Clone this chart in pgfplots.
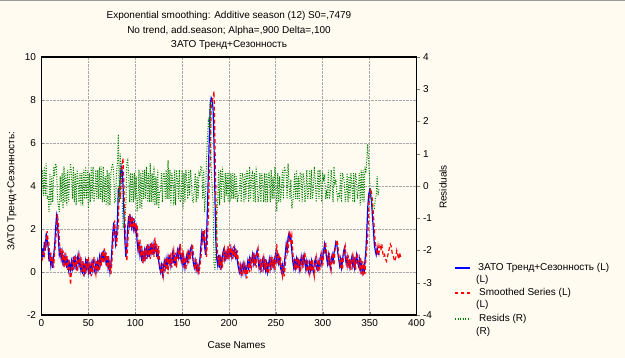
\documentclass[border=0pt]{standalone}
\usepackage{fontspec}
\setmainfont{Liberation Sans}
\usepackage{pgfplots}
\usepackage{pgfplotstable}
\pgfplotsset{compat=1.18}
\definecolor{bg}{HTML}{FFFBF0}
\definecolor{dgreen}{HTML}{008000}
\definecolor{lblue}{HTML}{0000FF}
\definecolor{gridc}{HTML}{A8A8A8}

\pgfplotstableread{
t b r g
0 0.6 0.7 -0.1
1 1.1 0.6 0.5
2 0.7 1.0 -0.3
3 1.4 0.8 0.6
4 1.0 1.3 -0.3
5 1.8 1.1 0.7
6 1.5 1.9 -0.4
7 1.2 1.5 -0.3
8 0.5 1.3 -0.8
9 0.9 0.5 0.4
10 0.3 0.9 -0.6
11 0.6 0.3 0.3
12 0.2 0.7 -0.5
13 0.8 0.2 0.6
14 1.2 0.9 0.3
15 2.0 1.3 0.7
16 2.6 2.0 0.6
17 2.3 2.7 -0.4
18 1.6 2.2 -0.6
19 0.8 1.6 -0.8
20 1.0 0.7 0.3
21 0.6 1.1 -0.5
22 0.9 0.5 0.4
23 0.3 1.0 -0.7
24 0.8 0.2 0.6
25 0.4 0.9 -0.5
26 0.7 0.3 0.4
27 0.2 0.8 -0.6
28 0.6 0.1 0.5
29 0.1 0.6 -0.5
30 0.4 0.1 0.3
31 0.1 -0.6 0.7
32 0.5 0.1 0.4
33 0.2 0.6 -0.4
34 0.7 0.1 0.6
35 0.3 0.8 -0.5
36 0.6 0.2 0.4
37 0.1 0.7 -0.6
38 0.5 0.0 0.5
39 0.8 0.6 0.2
40 0.3 0.8 -0.5
41 0.6 0.2 0.4
42 0.1 0.7 -0.6
43 0.4 0.0 0.4
44 -0.1 0.5 -0.6
45 0.3 -0.2 0.5
46 0.0 0.4 -0.4
47 0.5 -0.1 0.6
48 0.2 0.6 -0.4
49 0.6 0.1 0.5
50 0.0 0.7 -0.7
51 0.3 -0.1 0.4
52 -0.1 0.4 -0.5
53 0.4 -0.2 0.6
54 0.1 0.5 -0.4
55 0.6 0.0 0.6
56 0.2 0.7 -0.5
57 0.0 0.2 -0.2
58 0.4 -0.1 0.5
59 0.1 0.5 -0.4
60 0.5 0.0 0.5
61 0.2 0.6 -0.4
62 0.7 0.1 0.6
63 0.4 0.8 -0.4
64 0.9 0.3 0.6
65 0.5 1.0 -0.5
66 1.0 0.4 0.6
67 0.6 1.1 -0.5
68 0.8 0.5 0.3
69 0.3 0.9 -0.6
70 0.7 0.2 0.5
71 0.2 0.8 -0.6
72 0.5 0.1 0.4
73 0.0 0.6 -0.6
74 0.3 -0.1 0.4
75 1.0 0.4 0.6
76 1.8 1.1 0.7
77 2.3 1.9 0.4
78 1.9 2.4 -0.5
79 1.3 1.8 -0.5
80 1.6 1.2 0.4
81 2.4 1.7 0.7
82 3.9 2.3 1.6
83 3.5 4.0 -0.5
84 4.4 3.4 1.0
85 4.9 4.5 0.4
86 4.7 5.0 -0.3
87 4.0 5.3 -1.3
88 2.6 3.8 -1.2
89 1.4 2.4 -1.0
90 0.7 1.3 -0.6
91 1.2 0.5 0.7
92 2.1 1.3 0.8
93 2.6 2.2 0.4
94 2.2 2.7 -0.5
95 2.5 2.1 0.4
96 2.1 2.6 -0.5
97 2.4 2.0 0.4
98 2.0 2.5 -0.5
99 2.3 1.9 0.4
100 1.9 2.3 -0.4
101 2.1 1.8 0.3
102 1.4 2.2 -0.8
103 1.0 1.4 -0.4
104 1.4 0.9 0.5
105 0.8 1.5 -0.7
106 1.1 0.7 0.4
107 0.5 1.2 -0.7
108 0.9 0.4 0.5
109 0.6 1.0 -0.4
110 1.0 0.5 0.5
111 0.7 1.1 -0.4
112 1.2 0.6 0.6
113 0.8 1.3 -0.5
114 1.1 0.7 0.4
115 0.7 1.2 -0.5
116 1.3 0.6 0.7
117 0.9 1.4 -0.5
118 1.2 0.8 0.4
119 0.8 1.3 -0.5
120 1.3 0.7 0.6
121 1.0 1.6 -0.6
122 1.2 0.9 0.3
123 0.7 1.3 -0.6
124 1.1 0.6 0.5
125 0.5 1.2 -0.7
126 0.2 0.4 -0.2
127 0.0 0.2 -0.2
128 0.3 -0.1 0.4
129 -0.1 0.4 -0.5
130 0.2 -0.2 0.4
131 0.5 0.1 0.4
132 0.2 0.6 -0.4
133 0.6 0.1 0.5
134 0.3 0.7 -0.4
135 0.7 -0.1 0.8
136 0.4 0.8 -0.4
137 0.8 0.3 0.5
138 0.3 0.9 -0.6
139 0.6 0.2 0.4
140 0.9 0.7 0.2
141 0.4 1.0 -0.6
142 0.8 0.3 0.5
143 0.3 0.9 -0.6
144 0.7 0.2 0.5
145 1.0 0.8 0.2
146 0.7 1.1 -0.4
147 1.1 0.6 0.5
148 0.8 1.3 -0.5
149 0.5 0.9 -0.4
150 0.9 0.4 0.5
151 0.3 1.0 -0.7
152 0.6 0.2 0.4
153 0.2 0.7 -0.5
154 0.6 0.1 0.5
155 0.8 0.7 0.1
156 0.5 0.9 -0.4
157 0.9 0.4 0.5
158 0.7 1.0 -0.3
159 1.1 0.6 0.5
160 1.2 1.1 0.1
161 0.8 1.3 -0.5
162 0.4 0.9 -0.5
163 0.2 0.3 -0.1
164 0.5 0.1 0.4
165 0.1 0.6 -0.5
166 0.3 0.0 0.3
167 0.0 0.4 -0.4
168 0.3 -0.1 0.4
169 0.6 0.3 0.3
170 1.2 0.6 0.6
171 1.8 1.2 0.6
172 1.5 1.9 -0.4
173 1.9 1.4 0.5
174 1.2 2.0 -0.8
175 0.8 1.1 -0.3
176 1.5 0.7 0.8
177 3.0 1.5 1.5
178 4.6 2.6 2.0
179 6.3 4.5 1.8
180 7.8 5.2 2.6
181 8.1 7.6 0.5
182 8.0 8.0 0.0
183 7.6 8.1 -0.5
184 6.0 8.4 -2.4
185 3.5 6.1 -2.6
186 1.4 3.4 -2.0
187 0.6 1.6 -1.0
188 0.3 0.7 -0.4
189 0.8 0.3 0.5
190 0.2 0.8 -0.6
191 0.6 0.1 0.5
192 0.3 0.7 -0.4
193 0.8 0.2 0.6
194 1.0 0.9 0.1
195 0.6 1.1 -0.5
196 0.9 0.5 0.4
197 0.7 1.0 -0.3
198 1.0 0.6 0.4
199 0.7 1.2 -0.5
200 1.0 0.6 0.4
201 0.8 1.3 -0.5
202 1.1 0.7 0.4
203 0.7 1.1 -0.4
204 1.0 0.6 0.4
205 0.8 1.2 -0.4
206 1.1 0.7 0.4
207 0.7 1.1 -0.4
208 0.9 0.6 0.3
209 0.5 1.0 -0.5
210 0.2 0.5 -0.3
211 0.0 0.2 -0.2
212 0.3 -0.1 0.4
213 -0.1 0.4 -0.5
214 0.2 -0.2 0.4
215 0.4 0.1 0.3
216 0.0 0.5 -0.5
217 0.3 -0.1 0.4
218 -0.1 0.3 -0.4
219 0.2 -0.3 0.5
220 0.5 0.1 0.4
221 0.1 0.6 -0.5
222 0.6 0.0 0.6
223 0.3 0.7 -0.4
224 0.5 0.2 0.3
225 0.8 0.4 0.4
226 0.4 0.9 -0.5
227 0.7 0.3 0.4
228 0.3 0.8 -0.5
229 0.8 0.2 0.6
230 1.0 0.9 0.1
231 0.6 1.1 -0.5
232 0.2 0.5 -0.3
233 0.5 0.1 0.4
234 0.1 0.6 -0.5
235 0.4 0.0 0.4
236 0.6 0.5 0.1
237 0.2 0.7 -0.5
238 0.5 0.1 0.4
239 0.1 0.6 -0.5
240 0.4 0.0 0.4
241 0.0 0.5 -0.5
242 0.3 -0.1 0.4
243 0.6 0.2 0.4
244 0.2 0.7 -0.5
245 0.6 0.1 0.5
246 0.3 0.7 -0.4
247 0.5 0.2 0.3
248 0.2 0.6 -0.4
249 0.7 0.1 0.6
250 0.9 0.8 0.1
251 0.5 1.3 -0.8
252 0.8 0.4 0.4
253 0.4 0.9 -0.5
254 0.6 0.3 0.3
255 0.2 0.7 -0.5
256 0.0 0.1 -0.1
257 0.3 -0.2 0.5
258 -0.1 0.3 -0.4
259 0.4 -0.2 0.6
260 0.8 0.3 0.5
261 1.3 0.9 0.4
262 1.0 1.4 -0.4
263 1.6 0.9 0.7
264 1.8 1.7 0.1
265 1.5 1.9 -0.4
266 1.6 1.4 0.2
267 1.0 1.7 -0.7
268 0.5 1.0 -0.5
269 0.2 0.4 -0.2
270 0.5 0.1 0.4
271 0.2 0.6 -0.4
272 0.6 0.1 0.5
273 0.3 0.7 -0.4
274 0.5 0.2 0.3
275 0.1 0.6 -0.5
276 0.4 0.0 0.4
277 0.7 0.3 0.4
278 0.3 0.8 -0.5
279 0.6 0.2 0.4
280 0.8 0.6 0.2
281 0.4 0.9 -0.5
282 0.1 0.3 -0.2
283 0.5 0.0 0.5
284 0.2 0.6 -0.4
285 0.0 0.1 -0.1
286 0.4 -0.1 0.5
287 0.1 0.5 -0.4
288 0.5 0.0 0.5
289 0.2 0.6 -0.4
290 0.0 0.1 -0.1
291 0.4 -0.2 0.6
292 0.6 0.4 0.2
293 0.2 0.7 -0.5
294 0.1 0.2 -0.1
295 0.5 0.0 0.5
296 0.2 0.6 -0.4
297 0.6 0.1 0.5
298 0.8 0.7 0.1
299 0.4 0.9 -0.5
300 0.7 0.3 0.4
301 1.0 0.8 0.2
302 1.3 1.0 0.3
303 1.0 1.4 -0.4
304 0.7 0.9 -0.2
305 0.4 0.8 -0.4
306 0.8 0.3 0.5
307 0.5 0.9 -0.4
308 0.2 0.4 -0.2
309 0.6 0.1 0.5
310 0.8 0.7 0.1
311 0.4 0.9 -0.5
312 0.9 0.3 0.6
313 1.1 1.0 0.1
314 1.4 1.2 0.2
315 1.3 1.5 -0.2
316 0.9 1.3 -0.4
317 0.6 0.8 -0.2
318 0.3 0.6 -0.3
319 0.6 0.2 0.4
320 0.2 0.7 -0.5
321 0.5 0.1 0.4
322 0.9 0.6 0.3
323 1.1 1.0 0.1
324 0.7 1.2 -0.5
325 0.4 0.6 -0.2
326 0.7 0.3 0.4
327 0.3 0.8 -0.5
328 0.5 0.2 0.3
329 0.2 0.6 -0.4
330 0.5 0.1 0.4
331 0.7 0.6 0.1
332 0.3 0.8 -0.5
333 0.6 0.2 0.4
334 0.2 0.7 -0.5
335 0.5 0.1 0.4
336 0.8 0.6 0.2
337 0.5 0.9 -0.4
338 0.3 0.4 -0.1
339 0.6 0.2 0.4
340 0.1 0.7 -0.6
341 0.4 -0.1 0.5
342 0.0 0.5 -0.5
343 0.3 -0.2 0.5
344 -0.1 0.4 -0.5
345 0.5 -0.1 0.6
346 1.0 0.6 0.4
347 1.9 1.1 0.8
348 3.0 1.7 1.3
349 3.6 2.9 0.7
350 3.8 3.6 0.2
351 3.6 3.9 -0.3
352 3.3 3.7 -0.4
353 2.6 3.3 -0.7
354 2.0 2.7 -0.7
355 1.3 2.0 -0.7
356 1.0 1.4 -0.4
357 0.8 1.1 -0.3
358 1.1 0.8 0.3
359 0.9 1.2 -0.3
360 0.8 0.9 -0.1
361 nan 1.2 nan
362 nan 1.0 nan
363 nan 1.3 nan
364 nan 0.9 nan
365 nan 0.7 nan
366 nan 0.8 nan
367 nan 0.6 nan
368 nan 0.5 nan
369 nan 0.7 nan
370 nan 0.9 nan
371 nan 1.1 nan
372 nan 1.3 nan
373 nan 1.2 nan
374 nan 0.9 nan
375 nan 0.8 nan
376 nan 0.6 nan
377 nan 0.5 nan
378 nan 0.7 nan
379 nan 1.0 nan
380 nan 0.8 nan
381 nan 0.6 nan
382 nan 0.9 nan
383 nan 0.7 nan
}\data

\begin{document}
\begin{tikzpicture}[font=\fontsize{10bp}{12bp}\selectfont]
\path[use as bounding box, fill=bg] (0bp,0bp) rectangle (625bp,358bp);
\draw[gray!80, line width=1.5bp] (0bp,357.25bp) -- (625bp,357.25bp);
\node at (229bp,342bp) {Exponential smoothing: Additive season (12) S0=,7479};
\node at (229bp,327bp) {No trend, add.season; Alpha=,900 Delta=,100};
\node at (229bp,313bp) {ЗАТО Тренд+Сезонность};

\begin{axis}[
  at={(41.5bp,43bp)}, anchor=south west,
  width=375bp, height=258bp, scale only axis,
  xmin=0, xmax=400, ymin=-2, ymax=10,
  xtick={0,50,...,400}, ytick={-2,0,...,10},
  xtick pos=bottom, ytick pos=left,
  tick align=inside, major tick length=3bp,
  grid=major, major grid style={gridc, densely dotted, line width=0.8bp},
  axis line style={line width=1.1bp},
  /pgf/number format/assume math mode=true,
  ticklabel style={font=\fontsize{10bp}{12bp}\selectfont},
  yticklabel style={xshift=-2bp},
  xticklabel style={yshift=-1bp},
  xlabel={Case Names},
  xlabel style={at={(rel axis cs:0.52,-0.116)}, anchor=center},
  ylabel={ЗАТО Тренд+Сезонность:},
  ylabel style={at={(rel axis cs:-0.079,0.48)}, anchor=center},
]
\addplot[lblue, line width=1.2bp] table[x=t, y=b] {\data};
\addplot[red, line width=1.2bp, dash pattern=on 4bp off 2.5bp] table[x=t, y=r] {\data};
\end{axis}

\begin{axis}[
  at={(41.5bp,43bp)}, anchor=south west,
  width=375bp, height=258bp, scale only axis,
  xmin=0, xmax=400, ymin=-4, ymax=4,
  axis x line=none, axis y line*=right,
  ytick={-4,-3,...,4},
  tick align=outside, major tick length=3bp,
  axis line style={line width=1.1bp, -},
  /pgf/number format/assume math mode=true,
  ticklabel style={font=\fontsize{10bp}{12bp}\selectfont},
  ylabel={Residuals},
  ylabel style={at={(rel axis cs:1.071,0.496)}, anchor=center, rotate=0},
]
\addplot[dgreen, line width=1bp, dash pattern=on 1bp off 1.5bp] table[x=t, y=g] {\data};
\end{axis}

% legend
\draw[lblue, line width=1.3bp] (455bp,90bp) -- (470bp,90bp);
\node[anchor=west, inner sep=0pt] at (478bp,90bp) {ЗАТО Тренд+Сезонность (L)};
\node[anchor=west, inner sep=0pt] at (476bp,78bp) {(L)};
\draw[red, line width=1.3bp, dash pattern=on 3bp off 3bp] (455bp,65bp) -- (470bp,65bp);
\node[anchor=west, inner sep=0pt] at (479bp,65bp) {Smoothed Series (L)};
\node[anchor=west, inner sep=0pt] at (476bp,53bp) {(L)};
\draw[dgreen, line width=1.2bp, dash pattern=on 1bp off 1.5bp] (455bp,39bp) -- (470bp,39bp);
\node[anchor=west, inner sep=0pt] at (479bp,39bp) {Resids (R)};
\node[anchor=west, inner sep=0pt] at (476bp,26bp) {(R)};
\end{tikzpicture}
\end{document}
